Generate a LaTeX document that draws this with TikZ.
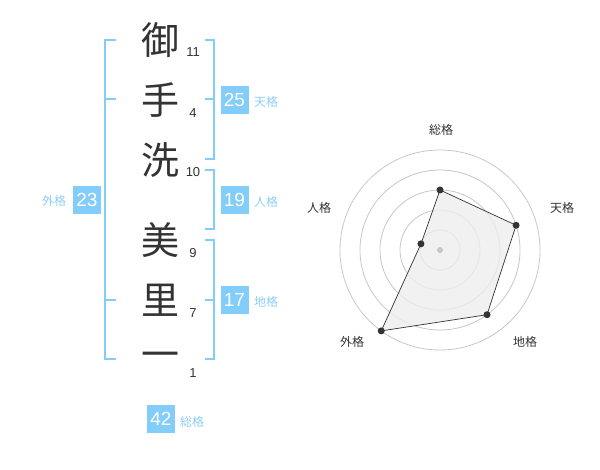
\documentclass[tikz,border=0pt]{standalone}
\usepackage{fontspec}
\setmainfont{Liberation Sans}
\newfontfamily\jpfont{Noto Sans CJK JP}
\usetikzlibrary{positioning,calc}
\definecolor{kakublue}{HTML}{82CDFA}
\definecolor{kakutext}{HTML}{8DCFF3}
\definecolor{inkgray}{HTML}{333333}

\begin{document}
\begin{tikzpicture}[x=1pt,y=-1pt,
    kanji/.style={font=\jpfont\fontsize{38}{38}\selectfont, text=inkgray, inner sep=0pt},
    strokes/.style={font=\fontsize{13}{13}\selectfont, text=inkgray, inner sep=0pt},
    kakubox/.style={fill=kakublue, text=white, minimum size=28pt, inner sep=0pt, font=\fontsize{19}{19}\selectfont},
    kakulabel/.style={font=\jpfont\fontsize{12}{12}\selectfont, text=kakutext, inner sep=0pt},
    bracket/.style={draw=kakublue, line width=2pt},
    ring/.style={draw=black!22, line width=0.8pt},
    axislabel/.style={font=\jpfont\fontsize{12}{12}\selectfont, text=inkgray, inner sep=0pt},
    dot/.style={circle, fill=inkgray, inner sep=0pt, minimum size=7pt}]
            \useasboundingbox (0,0) rectangle (600,470);
            % name characters
            \node[kanji] (c1) at (160,40)  {御};
            \node[kanji] (c2) at (160,100) {手};
            \node[kanji] (c3) at (160,160) {洗};
            \node[kanji] (c4) at (160,240) {美};
            \node[kanji] (c5) at (160,300) {里};
            \node[kanji] (c6) at (160,360) {一};
            % stroke counts
            \node[strokes] (n1) at (193,52)  {11};
            \node[strokes] (n2) at (193,113) {4};
            \node[strokes] (n3) at (193,172) {10};
            \node[strokes] (n4) at (193,253) {9};
            \node[strokes] (n5) at (193,313) {7};
            \node[strokes] (n6) at (193,373) {1};
            % outer bracket
            \draw[bracket] (116,40) -- (105,40) -- (105,359) -- (116,359);
            \draw[bracket] (105,99) -- (116,99);
            \draw[bracket] (105,300) -- (116,300);
            \node[kakubox] (gaibox) at (87,200) {23};
            \node[kakulabel] (gailbl) at (54,201) {外格};
            % right brackets
            \draw[bracket] (205,40) -- (214,40) -- (214,159) -- (205,159);
            \draw[bracket] (205,99) -- (214,99);
            \draw[bracket] (205,170) -- (214,170) -- (214,229) -- (205,229);
            \draw[bracket] (205,240) -- (214,240) -- (214,359) -- (205,359);
            \draw[bracket] (205,300) -- (214,300);
            \node[kakubox] (tenbox) at (234.5,100) {25};
            \node[kakulabel] (tenlbl) at (266,102) {天格};
            \node[kakubox] (jinbox) at (234.5,200) {19};
            \node[kakulabel] (jinlbl) at (266,202) {人格};
            \node[kakubox] (chibox) at (234.5,300) {17};
            \node[kakulabel] (chilbl) at (266,302) {地格};
            % total
            \node[kakubox] (sobox) at (161,419) {42};
            \node[kakulabel] (solbl) at (192,422) {総格};
            % radar rings
            \coordinate (ctr) at (440,250);
            \foreach \r in {20,40,60,80,100}
              \draw[ring] (ctr) circle[radius=\r pt];
            % radar values
            \coordinate (so)  at ($(ctr)+(90:60pt)$);
            \coordinate (ten) at ($(ctr)+(18:80pt)$);
            \coordinate (chi) at ($(ctr)+(-54:80pt)$);
            \coordinate (gai) at ($(ctr)+(-126:100pt)$);
            \coordinate (jin) at ($(ctr)+(162:20pt)$);
            \draw[fill=black!7, fill opacity=0.8, draw=inkgray, line width=0.7pt]
                  (so) -- (ten) -- (chi) -- (gai) -- (jin) -- cycle;
            \fill[black!22] (ctr) circle[radius=3pt];
            \node[dot] (sodot)  at (so)  {};
            \node[dot] (tendot) at (ten) {};
            \node[dot] (chidot) at (chi) {};
            \node[dot] (gaidot) at (gai) {};
            \node[dot] (jindot) at (jin) {};
            % radar labels
            \node[axislabel] (soax)  at (441,130) {総格};
            \node[axislabel] (tenax) at (562,208) {天格};
            \node[axislabel] (chiax) at (525,342) {地格};
            \node[axislabel] (gaiax) at (352,342) {外格};
            \node[axislabel] (jinax) at (319,208) {人格};
          \end{tikzpicture}
\end{document}
